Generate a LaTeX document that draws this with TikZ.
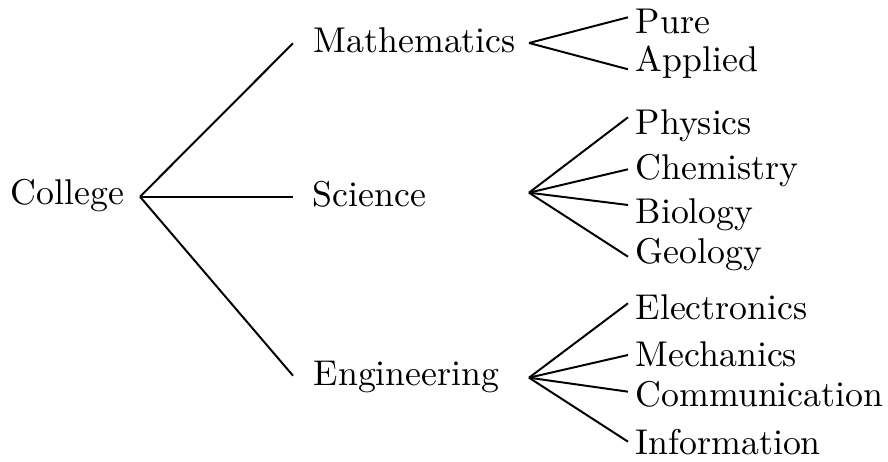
\documentclass[tikz,border=0pt]{standalone}
\begin{document}
\begin{tikzpicture}[x=0.2793pt,y=-0.2793pt,
  lbl/.style={inner sep=0pt,anchor=base west},
  link/.style={draw=black,line width=0.55pt}]
\useasboundingbox (0,0) rectangle (888,462);
% root
\node[lbl] (college) at (10,205) {College};
% level 2
\node[lbl] (math) at (313,52.7) {Mathematics};
\node[lbl] (sci)  at (312,207) {Science};
\node[lbl] (eng)  at (313,386) {Engineering};
% leaves
\node[lbl] (pure)    at (635,33.3)  {Pure};
\node[lbl] (applied) at (635,71.7)  {Applied};
\node[lbl] (phys)    at (635,135)   {Physics};
\node[lbl] (chem)    at (635,180)   {Chemistry};
\node[lbl] (bio)     at (635,223.3) {Biology};
\node[lbl] (geo)     at (635,263.3) {Geology};
\node[lbl] (elec)    at (635,320)   {Electronics};
\node[lbl] (mech)    at (635,366.7) {Mechanics};
\node[lbl] (comm)    at (635,406.7) {Communication};
\node[lbl] (info)    at (635,455)   {Information};
% root edges
\draw[link] ([shift={(130,-8.3)}]college.base west) -- ([shift={(-20,-9.4)}]math.base west);
\draw[link] ([shift={(130,-8.3)}]college.base west) -- ([shift={(-19,-10.3)}]sci.base west);
\draw[link] ([shift={(130,-8.3)}]college.base west) -- ([shift={(-20,-10.3)}]eng.base west);
% mathematics
\draw[link] ([shift={(216,-9.7)}]math.base west) -- ([shift={(-7,-16)}]pure.base west);
\draw[link] ([shift={(216,-9.7)}]math.base west) -- ([shift={(-7,-2.4)}]applied.base west);
% science
\draw[link] ([shift={(217,-14.3)}]sci.base west) -- ([shift={(-7,-17.7)}]phys.base west);
\draw[link] ([shift={(217,-14.3)}]sci.base west) -- ([shift={(-7,-10.7)}]chem.base west);
\draw[link] ([shift={(217,-14.3)}]sci.base west) -- ([shift={(-7,-18.3)}]bio.base west);
\draw[link] ([shift={(217,-14.3)}]sci.base west) -- ([shift={(-7,-6.6)}]geo.base west);
% engineering
\draw[link] ([shift={(216,-8.3)}]eng.base west) -- ([shift={(-7,-16.7)}]elec.base west);
\draw[link] ([shift={(216,-8.3)}]eng.base west) -- ([shift={(-7,-11.7)}]mech.base west);
\draw[link] ([shift={(216,-8.3)}]eng.base west) -- ([shift={(-7,-15)}]comm.base west);
\draw[link] ([shift={(216,-8.3)}]eng.base west) -- ([shift={(-7,-13.3)}]info.base west);
\end{tikzpicture}
\end{document}
